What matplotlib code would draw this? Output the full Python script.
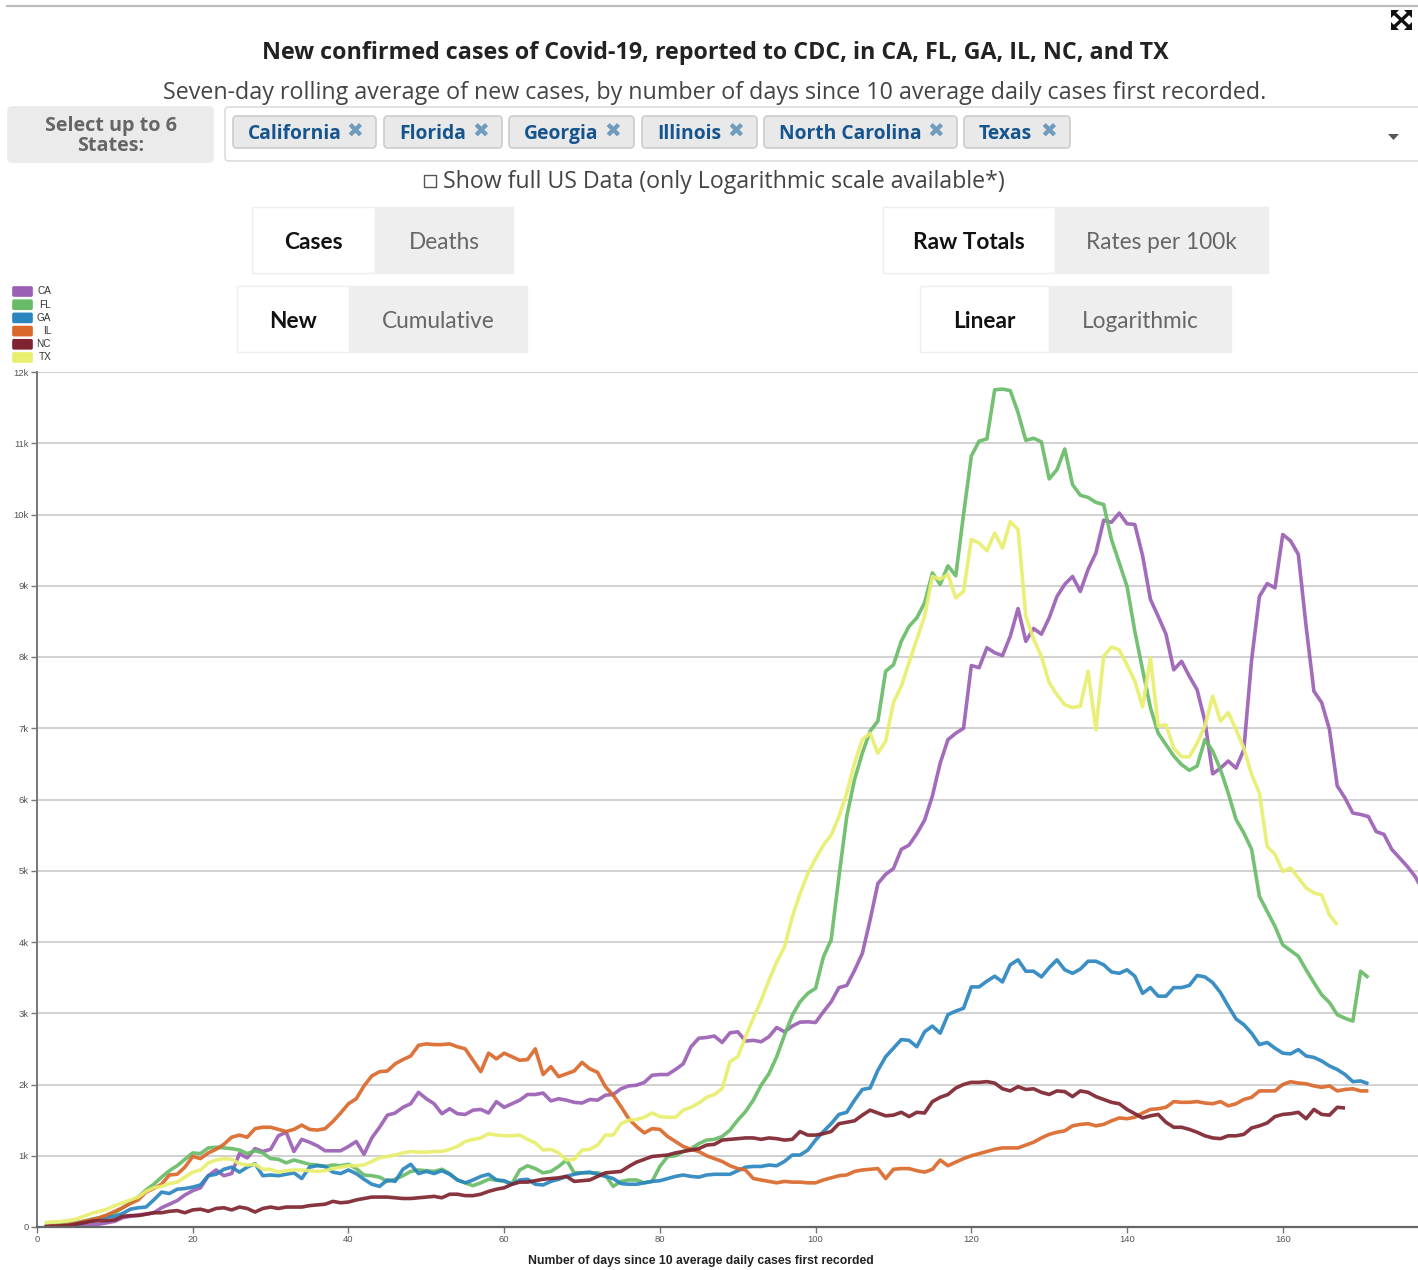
import matplotlib
matplotlib.use("Agg")
import matplotlib.pyplot as plt
from matplotlib.patches import FancyBboxPatch, Rectangle, Polygon
import numpy as np

# values, one per day starting at day 1
ca = [5,5,5,10,15,20,30,40,60,80,
      130,150,170,180,200,270,320,370,450,510,
      550,720,800,720,750,1030,970,1100,1060,1090,
      1280,1330,1060,1230,1190,1140,1070,1070,1070,1130,
      1200,1020,1250,1400,1570,1600,1680,1730,1890,1800,
      1730,1590,1660,1590,1580,1640,1650,1600,1760,1680,
      1730,1780,1860,1860,1880,1770,1800,1780,1750,1740,
      1790,1780,1850,1860,1940,1980,1990,2030,2130,2140,
      2140,2210,2290,2530,2650,2660,2680,2590,2725,2740,
      2610,2620,2600,2670,2800,2740,2820,2875,2880,2870,
      3020,3160,3360,3390,3600,3840,4310,4820,4950,5030,
      5300,5360,5520,5710,6050,6510,6840,6930,7000,7880,
      7850,8130,8060,8020,8290,8680,8220,8400,8320,8550,
      8850,9020,9130,8920,9230,9460,9920,9890,10020,9870,
      9860,9420,8810,8570,8320,7820,7940,7730,7540,7100,
      6360,6440,6540,6440,6700,7960,8850,9030,8970,9720,
      9630,9440,8430,7520,7360,6980,6190,6020,5810,5790,
      5760,5550,5510,5300,5180,5060,4920,4720]
fl = [20,25,30,40,60,80,110,130,160,200,
      270,340,420,520,600,700,790,860,950,1040,
      1030,1110,1120,1110,1100,1080,1030,1070,1040,960,
      950,900,940,910,880,870,850,870,860,880,
      820,730,720,700,640,670,720,780,800,790,
      780,810,750,660,620,580,620,670,660,640,
      610,800,860,820,760,780,850,940,760,760,
      760,760,730,570,640,660,660,620,640,850,
      990,1000,1060,1100,1170,1220,1230,1270,1360,1500,
      1620,1780,1990,2150,2390,2690,2970,3160,3280,3350,
      3790,4030,4920,5760,6280,6650,6960,7100,7800,7890,
      8220,8430,8550,8760,9180,9020,9280,9140,10000,10820,
      11030,11060,11750,11760,11740,11430,11040,11070,11020,10500,
      10630,10920,10420,10270,10240,10170,10140,9650,9320,8990,
      8360,7820,7290,6930,6770,6610,6490,6410,6470,6840,
      6680,6420,6090,5720,5530,5300,4640,4430,4220,3960,
      3880,3800,3610,3430,3260,3150,2980,2930,2890,3590,
      3500]
ga = [10,15,20,25,30,60,90,120,140,150,
      190,250,270,280,380,490,470,530,540,560,
      590,720,740,810,840,770,840,890,720,730,
      720,740,760,680,840,860,850,770,750,800,
      750,670,600,570,660,640,810,880,750,780,
      750,790,740,660,620,660,710,740,660,650,
      600,660,670,600,590,640,670,710,740,760,
      770,740,710,680,610,600,600,620,640,650,
      680,710,730,710,700,730,740,740,740,790,
      840,850,850,870,860,920,1010,1010,1080,1220,
      1340,1450,1580,1610,1780,1930,1950,2200,2390,2510,
      2630,2620,2530,2740,2820,2720,2980,3030,3070,3370,
      3370,3450,3520,3440,3680,3750,3590,3590,3510,3640,
      3750,3610,3560,3620,3730,3730,3680,3580,3560,3610,
      3520,3280,3360,3240,3240,3360,3360,3390,3530,3510,
      3430,3290,3100,2920,2840,2720,2560,2590,2510,2440,
      2430,2490,2400,2380,2330,2260,2210,2140,2040,2050,
      2010]
il = [10,15,20,30,50,80,100,130,170,220,
      270,330,380,490,540,600,730,740,840,990,
      960,1040,1090,1160,1260,1290,1260,1380,1400,1400,
      1370,1340,1370,1430,1370,1360,1380,1480,1600,1730,
      1800,1980,2120,2180,2190,2290,2350,2400,2550,2570,
      2560,2560,2570,2530,2500,2340,2180,2440,2360,2440,
      2390,2340,2350,2500,2140,2250,2110,2150,2190,2310,
      2220,2170,1970,1850,1690,1520,1410,1320,1380,1370,
      1270,1200,1130,1090,1060,1000,960,920,860,820,
      800,680,660,640,620,640,630,630,620,620,
      660,690,720,730,780,800,810,820,680,810,
      820,820,790,770,810,940,860,910,960,1000,
      1030,1060,1090,1110,1110,1110,1150,1190,1250,1300,
      1330,1350,1420,1440,1450,1420,1440,1490,1530,1520,
      1540,1600,1650,1660,1680,1760,1750,1750,1760,1740,
      1730,1760,1700,1730,1790,1820,1910,1910,1910,2000,
      2040,2020,2010,1980,1960,1980,1910,1930,1940,1910,
      1910]
nc = [5,10,15,20,40,60,80,90,90,100,
      150,160,160,180,200,200,220,230,200,240,
      250,220,260,270,240,280,260,210,260,280,
      260,280,280,280,300,310,320,360,340,350,
      380,400,420,420,420,410,400,400,410,420,
      430,410,460,460,440,440,460,500,530,550,
      600,630,630,650,670,680,690,710,640,650,
      660,710,760,770,780,850,910,950,990,1000,
      1010,1040,1060,1080,1100,1150,1160,1220,1230,1240,
      1250,1250,1230,1250,1240,1220,1230,1340,1290,1290,
      1310,1340,1450,1470,1490,1570,1640,1600,1560,1570,
      1610,1550,1610,1600,1760,1820,1860,1950,2000,2030,
      2030,2040,2020,1940,1910,1970,1930,1940,1890,1860,
      1910,1900,1830,1910,1890,1830,1790,1750,1730,1650,
      1590,1530,1560,1580,1470,1400,1400,1370,1330,1280,
      1250,1240,1280,1280,1300,1390,1420,1460,1550,1580,
      1590,1610,1520,1650,1580,1570,1680,1670]
tx = [60,70,75,90,110,150,190,220,250,300,
      340,380,420,500,550,570,610,630,700,770,
      800,900,940,960,950,890,870,880,810,810,
      770,790,800,800,790,780,790,820,840,860,
      860,870,920,970,990,1010,1040,1060,1050,1050,
      1060,1060,1090,1130,1200,1230,1250,1310,1290,1280,
      1280,1290,1230,1180,1080,1090,1040,940,950,1080,
      1090,1150,1290,1290,1450,1500,1510,1540,1600,1550,
      1540,1540,1640,1680,1740,1820,1860,1940,2320,2390,
      2670,2930,3180,3460,3720,3930,4350,4680,4960,5170,
      5360,5500,5760,6090,6510,6840,6930,6650,6820,7360,
      7590,7920,8250,8570,9130,9090,9160,8830,8920,9650,
      9600,9490,9740,9530,9900,9790,8570,8250,8010,7640,
      7470,7330,7290,7310,7800,6980,8010,8140,8100,7890,
      7660,7300,7990,7030,7050,6720,6600,6600,6790,7030,
      7450,7100,7220,6980,6720,6350,6090,5340,5230,4990,
      5040,4900,4760,4690,4660,4380,4240]

states = ["CA", "FL", "GA", "IL", "NC", "TX"]
state_colors = ["#9b5fb5", "#68bc68", "#2b86bf", "#d9682b", "#7e2430", "#e8ee6e"]
series = [ca, fl, ga, il, nc, tx]

x_ticks = [0, 20, 40, 60, 80, 100, 120, 140, 160]
y_ticks = list(range(0, 13000, 1000))
y_labels = ["0"] + [str(i) + "k" for i in range(1, 13)]

tags = ["California", "Florida", "Georgia", "Illinois", "North Carolina", "Texas"]
tag_edges = [(233, 376), (384, 502), (509, 634), (642, 757), (764, 957), (964, 1070)]

W, H = 1418, 1270


def fs(px):
    # font size in points for a size in pixels at dpi 100
    return px * 0.72


def button(bg, x0, x1, y0, y1, label, active):
    color = "white" if active else "#eeeeee"
    bg.add_patch(Rectangle((x0, y0), x1 - x0, y1 - y0, fc=color, ec="#eeeeee", lw=1))
    bg.text((x0 + x1) / 2, (y0 + y1) / 2 + 2.5, label, family="Lato", fontsize=fs(22.6),
            weight="bold" if active else "normal", color="#111111" if active else "#666666",
            ha="center", va="center")


def rounded(bg, x0, x1, y0, y1, fc, ec, r=4):
    bg.add_patch(FancyBboxPatch((x0 + r, y0 + r), x1 - x0 - 2 * r, y1 - y0 - 2 * r,
                                boxstyle="round,pad=%d,rounding_size=%d" % (r, r),
                                fc=fc, ec=ec, lw=1.2))


fig = plt.figure(figsize=(W / 100, H / 100), dpi=100, facecolor="white")

# page furniture is drawn in pixel coordinates on a full figure axes
bg = fig.add_axes([0, 0, 1, 1])
bg.set_xlim(0, W)
bg.set_ylim(H, 0)
bg.axis("off")

bg.plot([7, W], [5.5, 5.5], color="#bdbdbd", lw=1.6)
bg.text(715.5, 53, "New confirmed cases of Covid-19, reported to CDC, in CA, FL, GA, IL, NC, and TX",
        family="Open Sans", weight="bold", fontsize=fs(23.25), color="#222222", ha="center", va="center")
bg.text(715, 93, "Seven-day rolling average of new cases, by number of days since 10 average daily cases first recorded.",
        family="Open Sans", fontsize=fs(23.2), color="#444444", ha="center", va="center")

rounded(bg, 8, 213, 107, 162, "#ebebeb", "#ebebeb")
bg.text(111, 136, "Select up to 6\nStates:", family="Open Sans", weight="bold", fontsize=fs(19.8),
        color="#666666", ha="center", va="center", linespacing=0.95)
rounded(bg, 225, 1440, 107, 161, "white", "#dddddd")
for tag, (x0, x1) in zip(tags, tag_edges):
    rounded(bg, x0, x1, 116, 148, "#e9e9e9", "#cccccc")
    bg.text(x0 + 15, 134, tag, family="Open Sans", weight="bold", fontsize=fs(19.3),
            color="#16548e", ha="left", va="center")
    bg.text(x1 - 21, 132, "\u2716", family="DejaVu Sans", fontsize=fs(20),
            color="#6f9cbd", ha="center", va="center")
bg.add_patch(Polygon([(1388, 134), (1399, 134), (1393.5, 140)], fc="#555555", ec="none"))

bg.add_patch(Rectangle((424, 175), 12, 12, fc="white", ec="#555555", lw=1))
bg.text(443, 182, "Show full US Data (only Logarithmic scale available*)", family="Open Sans",
        fontsize=fs(23.1), color="#444444", ha="left", va="center")

button(bg, 252, 375, 207, 273, "Cases", True)
button(bg, 375, 513, 207, 273, "Deaths", False)
button(bg, 237, 349, 286, 352, "New", True)
button(bg, 349, 527, 286, 352, "Cumulative", False)
button(bg, 883, 1055, 207, 273, "Raw Totals", True)
button(bg, 1055, 1268, 207, 273, "Rates per 100k", False)
button(bg, 920, 1049, 286, 352, "Linear", True)
button(bg, 1049, 1231, 286, 352, "Logarithmic", False)

# expand icon: two crossed strokes with a triangle on each corner
icon_x0, icon_x1, icon_y0, icon_y1 = 1391, 1412, 10, 30
bg.plot([icon_x0 + 3, icon_x1 - 3], [icon_y0 + 3, icon_y1 - 3], color="#111111", lw=2.4)
bg.plot([icon_x1 - 3, icon_x0 + 3], [icon_y0 + 3, icon_y1 - 3], color="#111111", lw=2.4)
for cx, cy, sx, sy in [(icon_x0, icon_y0, 1, 1), (icon_x1, icon_y0, -1, 1),
                       (icon_x0, icon_y1, 1, -1), (icon_x1, icon_y1, -1, -1)]:
    bg.add_patch(Polygon([(cx, cy), (cx + 8 * sx, cy), (cx, cy + 8 * sy)], fc="#111111", ec="none"))

# legend
for i, (state, color) in enumerate(zip(states, state_colors)):
    y = 291.5 + i * 13.2
    rounded(bg, 13, 32, y - 4.5, y + 4.5, color, color, r=1)
    bg.text(51, y, state, family="Liberation Sans", fontsize=fs(10), color="#333333", ha="right", va="center")

# chart
ax = fig.add_axes([37 / W, 1 - 1227 / H, (W - 37) / W, (1227 - 372) / H])
ax.patch.set_alpha(0)
for values, color in zip(series, state_colors):
    ax.plot(np.arange(1, len(values) + 1), values, color=color, lw=2.6, alpha=0.92,
            solid_joinstyle="round", solid_capstyle="butt")
ax.set_xlim(0, (W - 37) / 7.786)
ax.set_ylim(0, 12000)
ax.set_xticks(x_ticks)
ax.set_yticks(y_ticks)
ax.set_yticklabels(y_labels)
ax.grid(True, axis="y", color="#c9c9c9", lw=1.2)
ax.set_axisbelow(True)
for side in ["top", "right"]:
    ax.spines[side].set_visible(False)
ax.spines["left"].set_color("#777777")
ax.spines["left"].set_linewidth(1.4)
ax.spines["bottom"].set_color("#666666")
ax.spines["bottom"].set_linewidth(1.6)
ax.tick_params(axis="both", length=4, width=1, color="#777777", labelcolor="#555555", pad=2)
ax.tick_params(axis="both", labelsize=fs(9.5))
for label in ax.get_xticklabels() + ax.get_yticklabels():
    label.set_family("Liberation Sans")

bg.text(701, 1261, "Number of days since 10 average daily cases first recorded", family="Liberation Sans",
        weight="bold", fontsize=fs(12.2), color="#222222", ha="center", va="center")

fig.savefig("out.png", dpi=100)
